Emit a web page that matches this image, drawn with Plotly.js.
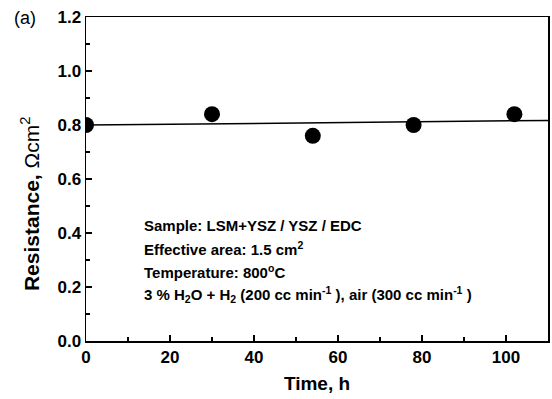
<!DOCTYPE html>
<html>
<head>
<meta charset="utf-8">
<script src="https://cdn.plot.ly/plotly-3.0.1.min.js"></script>
<style>html,body{margin:0;padding:0;background:#fff;}#chart{width:552px;height:399px;}</style>
</head>
<body>
<div id="chart"></div>
<script>
const timeH = [0, 30, 54, 78, 102];
const resistance = [0.80, 0.84, 0.76, 0.80, 0.84];
const fitX = [0, 110];
const fitY = [0.7996, 0.817];
const xTicks = [0, 20, 40, 60, 80, 100];
const yTicks = [0.0, 0.2, 0.4, 0.6, 0.8, 1.0, 1.2];
const infoLines = [
  'Sample: LSM+YSZ / YSZ / EDC',
  'Effective area: 1.5 cm<sup>2</sup>',
  'Temperature: 800<sup>o</sup>C',
  '3 % H<sub>2</sub>O + H<sub>2</sub> (200 cc min<sup>-1</sup> ), air (300 cc min<sup>-1</sup> )'
];

const F = 'Liberation Sans, Arial, sans-serif';
const traces = [
  {x: fitX, y: fitY, mode: 'lines', line: {color: '#000', width: 1.5}, hoverinfo: 'skip'},
  {x: timeH, y: resistance, mode: 'markers', marker: {color: '#000', size: 16}, cliponaxis: true}
];
const infoY = [0.358, 0.287, 0.213, 0.142];
const annotations = infoLines.map((t, i) => ({
  text: t, xref: 'paper', yref: 'paper', x: 0.121, y: infoY[i],
  xanchor: 'left', yanchor: 'middle', showarrow: false,
  font: {family: F, size: 15, color: '#000', weight: 'bold'}
}));
annotations.push({text: '(a)', xref: 'paper', yref: 'paper', x: -0.16, y: 0.997,
  xanchor: 'left', yanchor: 'middle', showarrow: false,
  font: {family: F, size: 18, color: '#000'}});
annotations.push({text: '<b>Resistance, </b>Ωcm<sup>2</sup>', xref: 'paper', yref: 'paper',
  x: -0.121, y: 0.423, xanchor: 'center', yanchor: 'middle', textangle: -90, showarrow: false,
  font: {family: F, size: 21, color: '#000'}});

const axisCommon = {
  showgrid: false, zeroline: false, showline: true, mirror: true,
  linecolor: '#000', linewidth: 1.5, ticks: 'inside', ticklen: 6, tickwidth: 1.5, tickcolor: '#000',
  tickfont: {family: F, size: 17, color: '#000', weight: 'bold'}
};
const layout = {
  width: 552, height: 399,
  margin: {l: 86, r: 4, t: 17, b: 58},
  paper_bgcolor: '#fff', plot_bgcolor: '#fff',
  showlegend: false,
  xaxis: Object.assign({}, axisCommon, {
    range: [0, 110], tickvals: xTicks, ticktext: xTicks.map(String),
    minor: {dtick: 10, tick0: 0, ticks: 'inside', ticklen: 4, tickwidth: 1.5, tickcolor: '#000'},
    title: {text: 'Time, h', font: {family: F, size: 19, color: '#000', weight: 'bold'}, standoff: 11}
  }),
  yaxis: Object.assign({}, axisCommon, {
    range: [0, 1.2], tickvals: yTicks, ticktext: yTicks.map(v => v.toFixed(1)),
    minor: {dtick: 0.1, tick0: 0, ticks: 'inside', ticklen: 4, tickwidth: 1.5, tickcolor: '#000'}
  }),
  annotations: annotations
};
Plotly.newPlot('chart', traces, layout, {staticPlot: true});
</script>
</body>
</html>
